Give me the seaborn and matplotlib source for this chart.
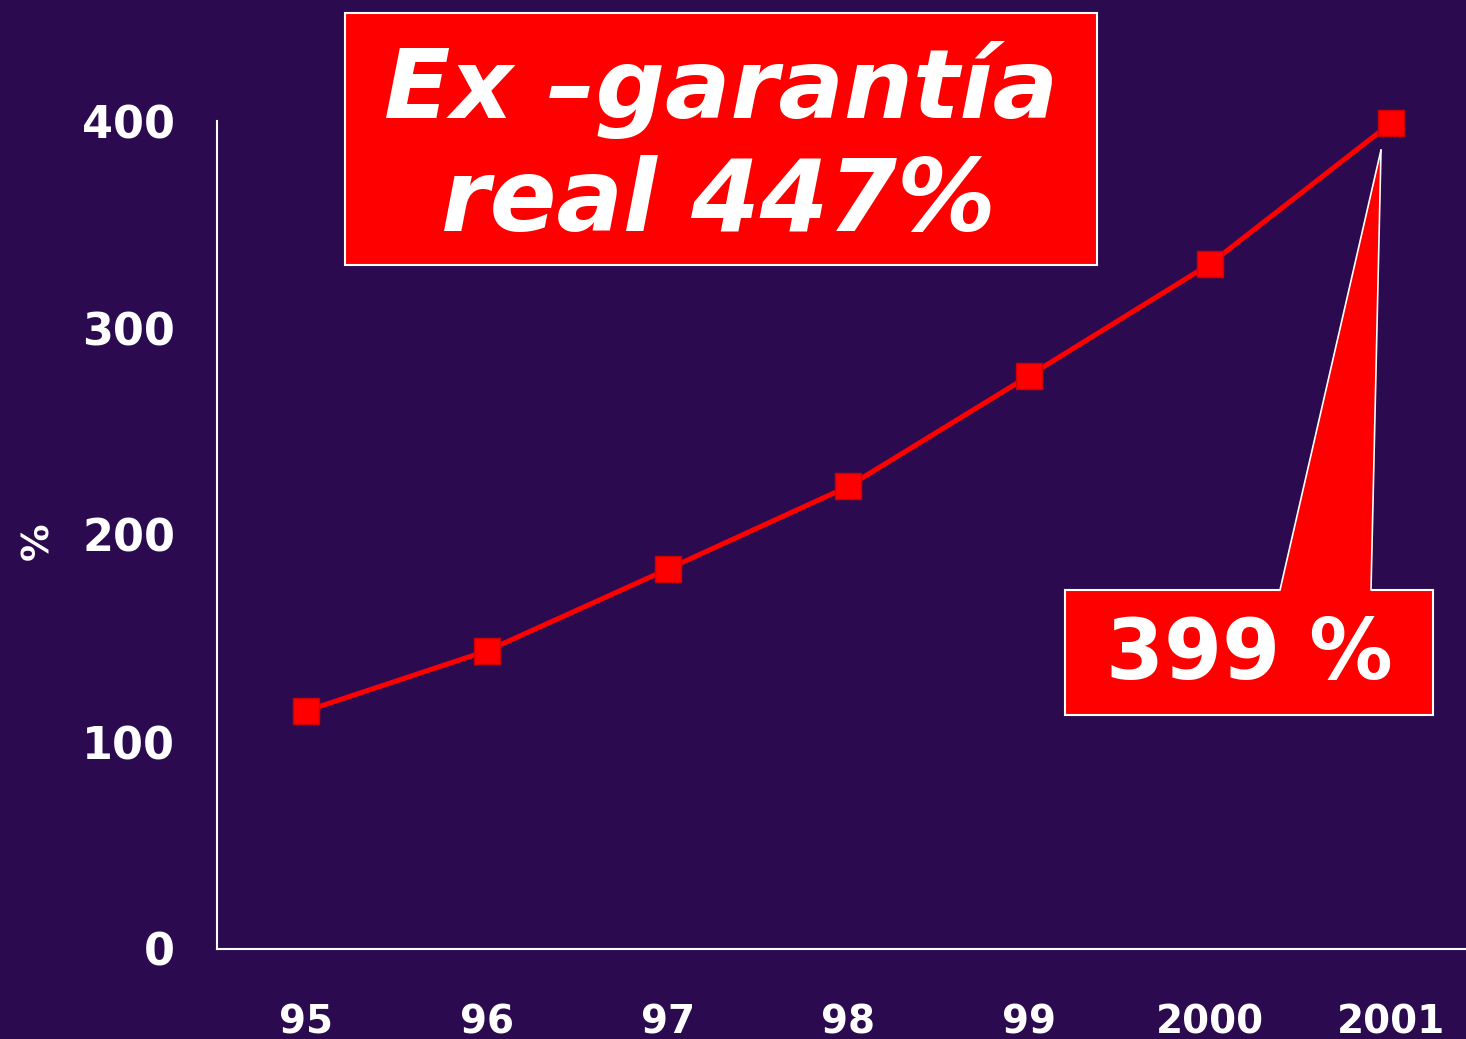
import numpy as np
import pandas as pd
import seaborn as sns
import matplotlib
matplotlib.use('Agg')
import matplotlib.pyplot as plt
from matplotlib import font_manager
from matplotlib.patches import Rectangle, Polygon
from matplotlib.lines import Line2D

years = ['95', '96', '97', '98', '99', '2000', '2001']
pct = [115, 144, 183.5, 223.5, 277, 331, 399]
yticks = [0, 100, 200, 300, 400]
title_lines = ['Ex \u2013garant\u00eda', 'real 447%']
callout_text = '399 %'

BG = '#2c0a50'
RED = '#ff0000'
W, H = 1466, 1039

sns.set_theme(style='white')
plt.rcParams['font.family'] = ['DejaVu Sans']

names = {f.name for f in font_manager.fontManager.ttflist}
narrow = 'Liberation Sans Narrow' if 'Liberation Sans Narrow' in names else 'DejaVu Sans'

df = pd.DataFrame({'x': np.arange(len(years)), 'pct': pct})

fig = plt.figure(figsize=(W / 100, H / 100), dpi=100, facecolor=BG)
ax = fig.add_axes([217 / W, (H - 949) / H, (W - 217) / W, (949 - 121) / H])
ax.set_facecolor(BG)

sns.lineplot(data=df, x='x', y='pct', ax=ax, color=RED, linewidth=3.6,
             marker='s', markersize=19, markerfacecolor=RED,
             markeredgecolor='#d00000', markeredgewidth=1, clip_on=False, zorder=4)

ax.set_xlim(-0.492, 6.415)
ax.set_ylim(0, 400)
ax.set_xticks(df['x'])
ax.set_xticklabels(years)
ax.set_yticks(yticks)
ax.set_yticklabels([str(v) for v in yticks])
ax.set_xlabel('')
ax.set_ylabel('')
ax.tick_params(axis='x', length=0, pad=39, labelsize=28, labelcolor='white')
ax.tick_params(axis='y', length=0, pad=30, labelsize=32, labelcolor='white')
for lab in ax.get_xticklabels() + ax.get_yticklabels():
    lab.set_fontweight('bold')
for s in ['top', 'right']:
    ax.spines[s].set_visible(False)
for s in ['left', 'bottom']:
    ax.spines[s].set_color('white')
    ax.spines[s].set_linewidth(1.5)
ax.grid(False)

# y label
fig.text(38 / W, 1 - 541 / H, '%', rotation=90, ha='center', va='center',
         color='white', fontsize=27, fontweight='bold')


def fx(px):
    return px / W


def fy(py):
    return 1 - py / H


# title box
fig.patches.append(Rectangle((fx(345), fy(265)), fx(1097) - fx(345), fy(13) - fy(265),
                             transform=fig.transFigure, facecolor=RED,
                             edgecolor='white', linewidth=1.5, zorder=5))
t1 = fig.text(fx(721), fy(90), title_lines[0], ha='center', va='center', color='white',
              fontsize=70, fontweight='bold', fontstyle='italic', family=narrow, zorder=6)
t2 = fig.text(fx(718), fy(203), title_lines[1], ha='center', va='center', color='white',
              fontsize=70, fontweight='bold', fontstyle='italic', family=narrow, zorder=6)

# fit title widths to the box
fig.canvas.draw()
r = fig.canvas.get_renderer()
for t, target in [(t1, 675), (t2, 555)]:
    w = t.get_window_extent(r).width
    t.set_fontsize(t.get_fontsize() * target / w)

# callout pointing to the last point
tip = ax.transData.transform((df['x'].iloc[-1] - 0.055, df['pct'].iloc[-1] - 13))
tip_f = fig.transFigure.inverted().transform(tip)
fig.patches.append(Rectangle((fx(1065), fy(715)), fx(1433) - fx(1065), fy(590) - fy(715),
                             transform=fig.transFigure, facecolor=RED,
                             edgecolor='white', linewidth=1.5, zorder=5))
fig.patches.append(Polygon([(fx(1280), fy(592)), (fx(1371), fy(592)), tuple(tip_f)],
                           closed=True, transform=fig.transFigure, facecolor=RED,
                           edgecolor='none', zorder=6))
for bx in [1280, 1371]:
    fig.lines.append(Line2D([fx(bx), tip_f[0]], [fy(590), tip_f[1]],
                            transform=fig.transFigure, color='white', linewidth=1.2, zorder=7))
fig.text(fx(1249), fy(656), callout_text, ha='center', va='center', color='white',
         fontsize=60, fontweight='bold', zorder=8)

fig.savefig('out.png', dpi=100, facecolor=BG)
